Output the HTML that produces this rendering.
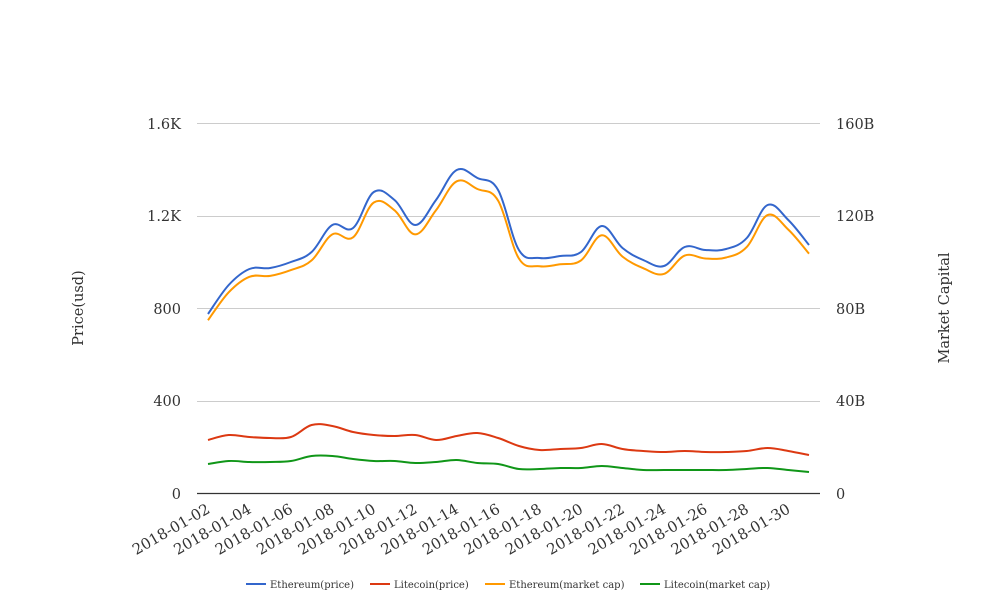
<!DOCTYPE html>
<html><head><meta charset="utf-8"><style>body{margin:0;background:#fff}svg{display:block;font-family:"DejaVu Serif","Liberation Serif",serif}</style></head>
<body>
<svg id="s" width="1008" height="616" xmlns="http://www.w3.org/2000/svg">
<g stroke="#ccc" stroke-width="1">
<line x1="197" y1="123.5" x2="820" y2="123.5"/><line x1="197" y1="216.5" x2="820" y2="216.5"/><line x1="197" y1="308.5" x2="820" y2="308.5"/><line x1="197" y1="401.5" x2="820" y2="401.5"/>
</g>
<line x1="197" y1="493.5" x2="820" y2="493.5" stroke="#333" stroke-width="1.2"/>
<g font-size="14.5" fill="#333" text-anchor="end">
<text x="181" y="129">1.6K</text><text x="181" y="221">1.2K</text><text x="181" y="314">800</text><text x="181" y="406">400</text><text x="181" y="499">0</text>
</g>
<g font-size="14.5" fill="#333">
<text x="836" y="129">160B</text><text x="836" y="221">120B</text><text x="836" y="314">80B</text><text x="836" y="406">40B</text><text x="836" y="499">0</text>
</g>
<text font-size="14.5" fill="#333" text-anchor="middle" transform="translate(83,308) rotate(-90)">Price(usd)</text>
<text font-size="14.5" fill="#333" text-anchor="middle" transform="translate(949,308) rotate(-90)">Market Capital</text>
<g id="xl" font-size="15" fill="#333" text-anchor="end"></g>
<g id="lines" fill="none" stroke-width="2"></g>
<g font-size="10" fill="#333">
<line x1="246" y1="584" x2="266" y2="584" stroke="#3366cc" stroke-width="2"/><text x="270" y="588">Ethereum(price)</text>
<line x1="370" y1="584" x2="390" y2="584" stroke="#dc3912" stroke-width="2"/><text x="394" y="588">Litecoin(price)</text>
<line x1="485" y1="584" x2="505" y2="584" stroke="#ff9900" stroke-width="2"/><text x="509" y="588">Ethereum(market cap)</text>
<line x1="640" y1="584" x2="660" y2="584" stroke="#109618" stroke-width="2"/><text x="664" y="588">Litecoin(market cap)</text>
</g>
</svg>
<script>
var X=[];for(var i=0;i<30;i++)X.push(208+i*(601/29));
var blue=[314,285,269,268,262,252,225,228,192,200,225,200,170,178,190,250,258,256,252,226,248,260,266,247,250,249,238,205,220,245];
var orange=blue.map(function(y){return 493-(493-y)*0.965;});
var red=[440,435,437,438,437,425,426,432,435,436,435,440,436,433,438,446,450,449,448,444,449,451,452,451,452,452,451,448,451,455];
var green=[464,461,462,462,461,456,456,459,461,461,463,462,460,463,464,469,469,468,468,466,468,470,470,470,470,470,469,468,470,472];
function path(Y){var d="M"+X[0]+","+Y[0];for(var i=0;i<Y.length-1;i++){var p0=i>0?i-1:i,p3=i+2<Y.length?i+2:i+1;var t=0.18;
var c1x=X[i]+(X[i+1]-X[p0])*t,c1y=Y[i]+(Y[i+1]-Y[p0])*t,c2x=X[i+1]-(X[p3]-X[i])*t,c2y=Y[i+1]-(Y[p3]-Y[i])*t;
d+=" C"+c1x.toFixed(1)+","+c1y.toFixed(1)+" "+c2x.toFixed(1)+","+c2y.toFixed(1)+" "+X[i+1].toFixed(1)+","+Y[i+1].toFixed(1);}return d;}
var ns="http://www.w3.org/2000/svg",g=document.getElementById("lines");
[[green,"#109618"],[red,"#dc3912"],[orange,"#ff9900"],[blue,"#3366cc"]].forEach(function(a){var p=document.createElementNS(ns,"path");p.setAttribute("d",path(a[0]));p.setAttribute("stroke",a[1]);g.appendChild(p);});
var xl=document.getElementById("xl");
for(var i=0;i<30;i+=2){var t=document.createElementNS(ns,"text");var d=i+2;t.textContent="2018-01-"+(d<10?"0"+d:d);t.setAttribute("transform","translate("+(X[i]+3).toFixed(1)+",512) rotate(-30)");xl.appendChild(t);}
</script>
</body></html>
